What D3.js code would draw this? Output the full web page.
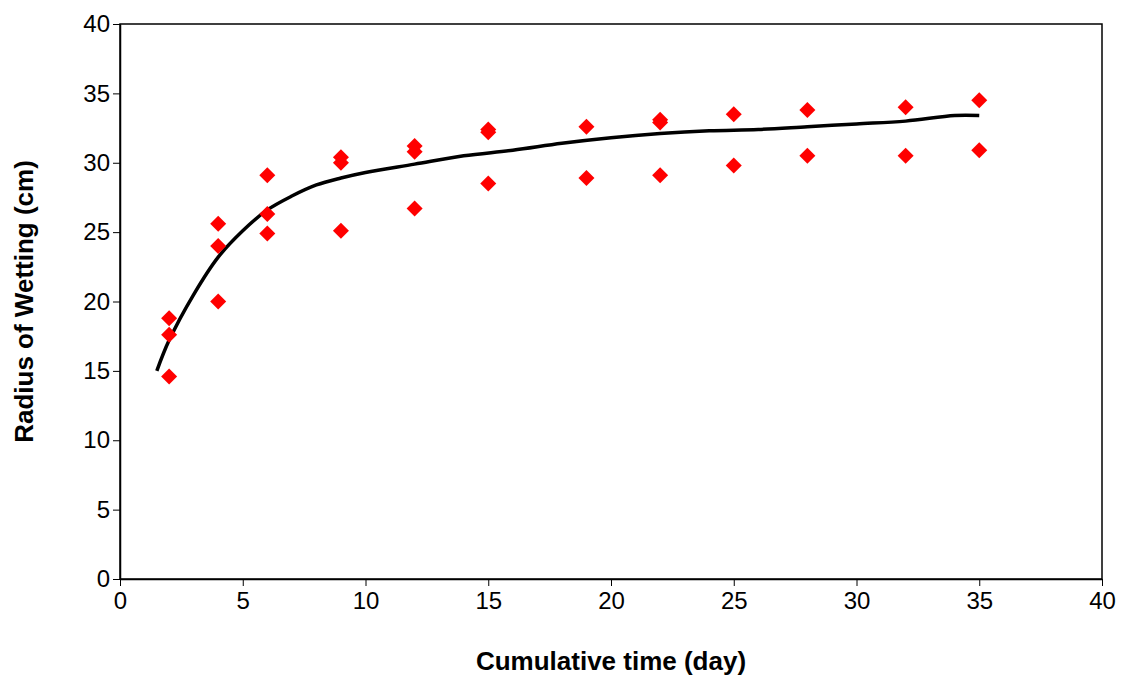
<!DOCTYPE html>
<html><head><meta charset="utf-8">
<script src="https://cdn.jsdelivr.net/npm/d3@7"></script>
<style>body{margin:0;background:#fff}text{font-family:"Liberation Sans",Arial,sans-serif}</style>
</head><body><svg id="c" width="1126" height="684"></svg>
<script>
// measured points (day, radius cm)
const obsX=[2,2,2,4,4,4,6,6,6,9,9,9,12,12,12,15,15,15,19,19,22,22,22,25,25,28,28,32,32,35,35];
const obsY=[18.8,17.6,14.6,25.6,24.0,20.0,29.1,26.3,24.9,30.4,30.0,25.1,31.2,30.8,26.7,32.4,32.2,28.5,32.6,28.9,33.1,32.9,29.1,33.5,29.8,33.8,30.5,34.0,30.5,34.5,30.9];
// fitted curve
const fitX=[1.5,2,3,4,5,6,7,8,9,10,12,14,16,18,20,22,24,26,28,30,32,34,35];
const fitY=[15,17.2,20.5,23.2,25.1,26.6,27.6,28.4,28.9,29.3,29.9,30.5,30.9,31.4,31.8,32.1,32.3,32.4,32.6,32.8,33.0,33.4,33.4];
const xTicks=d3.range(0,41,5), yTicks=d3.range(0,41,5);

const svg=d3.select("#c");
const x=d3.scaleLinear().domain([0,40]).range([120,1102]);
const y=d3.scaleLinear().domain([0,40]).range([579,24]);

svg.append("rect").attr("x",120).attr("y",24).attr("width",982).attr("height",555)
  .attr("fill","none").attr("stroke","#000").attr("stroke-width",1.5);

const ax=svg.append("g").attr("transform","translate(0,579)")
  .call(d3.axisBottom(x).tickValues(xTicks).tickSize(7).tickSizeOuter(0));
ax.select(".domain").attr("stroke-width",1.5);
ax.selectAll("text").attr("font-size",24).attr("dy","0.85em");
const ay=svg.append("g").attr("transform","translate(120,0)")
  .call(d3.axisLeft(y).tickValues(yTicks).tickSize(7).tickSizeOuter(0));
ay.select(".domain").attr("stroke-width",1.5);
ay.selectAll("text").attr("font-size",24);
svg.selectAll(".tick text").attr("font-family","Liberation Sans, Arial, sans-serif").attr("fill","#000");

svg.append("path").datum(fitX.map((d,i)=>[d,fitY[i]]))
  .attr("d",d3.line().x(d=>x(d[0])).y(d=>y(d[1])).curve(d3.curveCatmullRom))
  .attr("fill","none").attr("stroke","#000").attr("stroke-width",3.5);

svg.append("g").selectAll("path").data(obsX).join("path")
  .attr("transform",(d,i)=>`translate(${x(d)},${y(obsY[i])})`)
  .attr("d","M0,-8L8,0L0,8L-8,0Z").attr("fill","#ff0000");

svg.append("text").attr("x",x(20)).attr("y",670).attr("text-anchor","middle")
  .attr("font-size",26).attr("font-weight","bold").text("Cumulative time (day)");
svg.append("text").attr("transform",`translate(33,${y(20)}) rotate(-90)`).attr("text-anchor","middle")
  .attr("font-size",26).attr("font-weight","bold").text("Radius of Wetting (cm)");
</script></body></html>
